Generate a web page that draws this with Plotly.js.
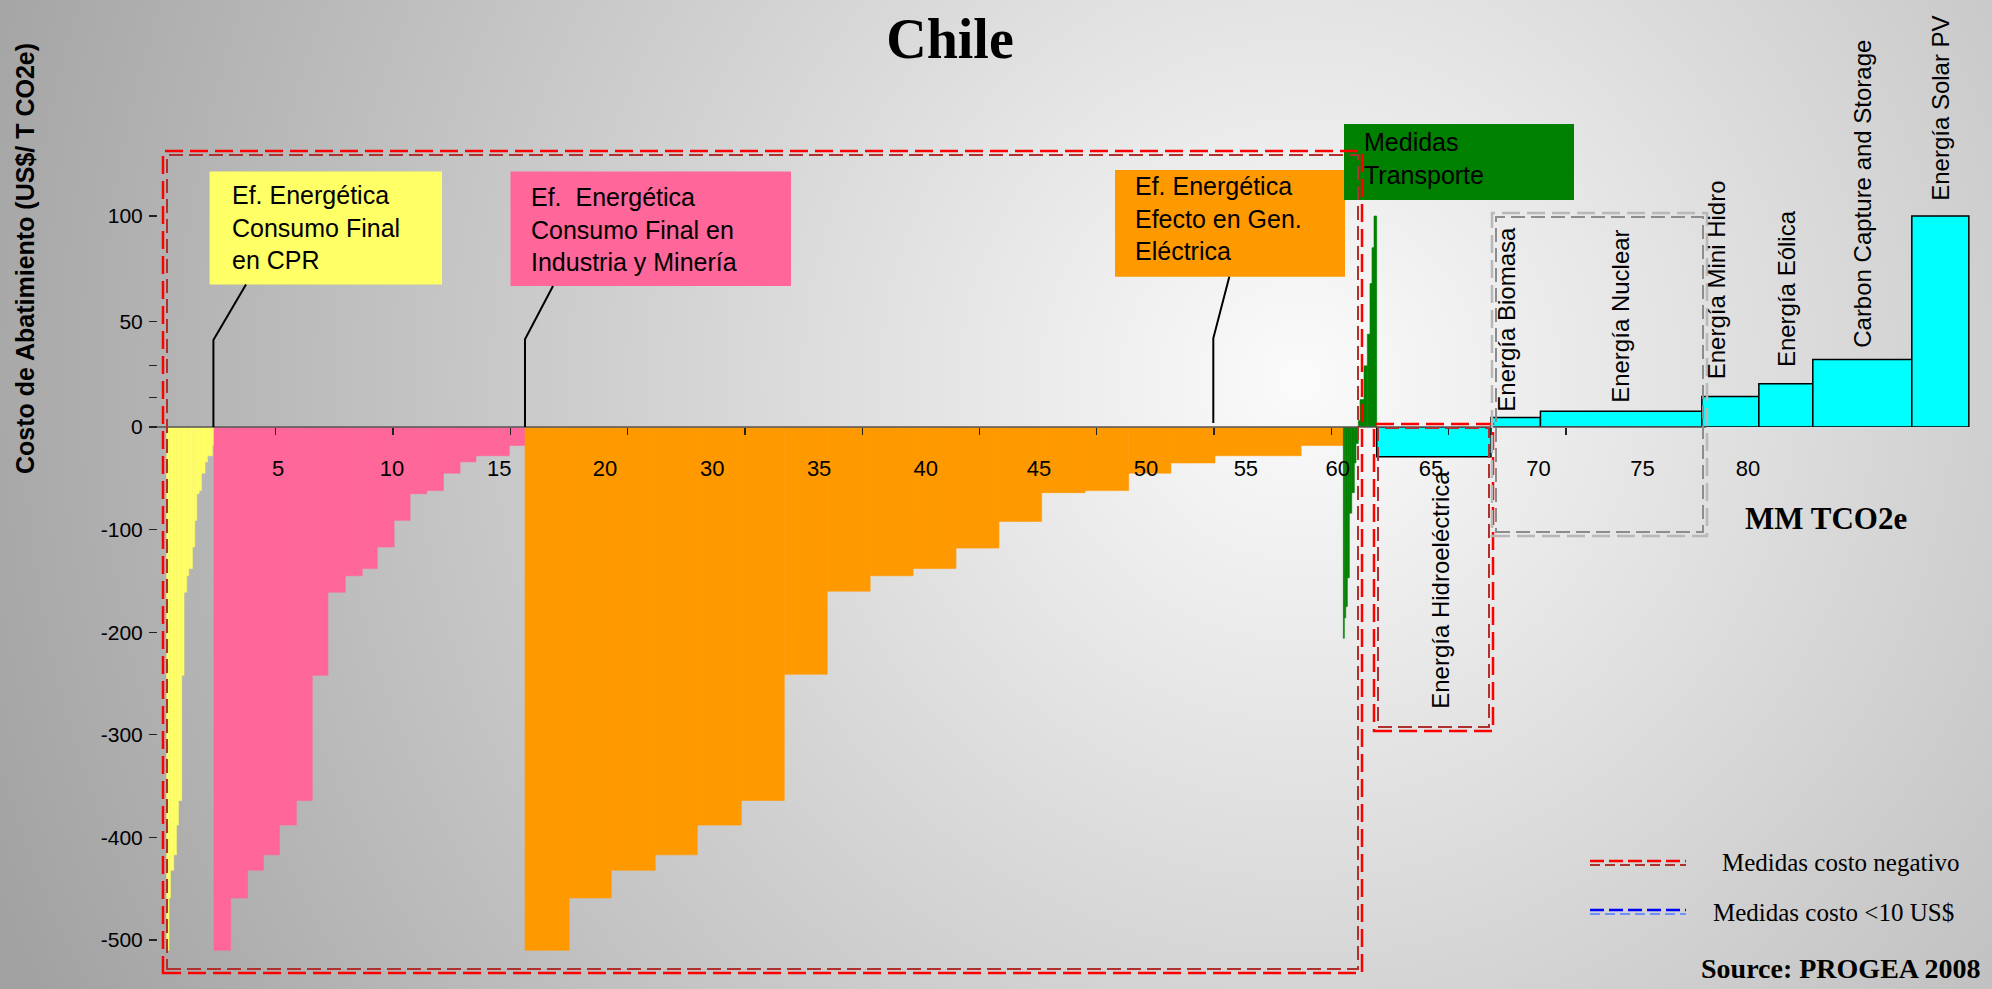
<!DOCTYPE html>
<html>
<head>
<meta charset="utf-8">
<script src="https://cdn.plot.ly/plotly-3.0.1.min.js"></script>
<style>
html,body{margin:0;padding:0;}
body{width:1992px;height:989px;overflow:hidden;
  background: radial-gradient(circle 1400px at 1300px 380px, #fbfbfb 0px, #e2e2e2 400px, #a2a2a2 1400px);}
#chart{width:1992px;height:989px;}
</style>
</head>
<body>
<div id="chart"></div>
<script>
// ---------------- DATA ----------------
// Abatement cost (US$/tCO2e) and abated volume (MM tCO2e) of each measure, in curve order
const cprCost  = [-510,-459,-432,-417,-388,-364,-242,-161,-145,-138,-117,-91,-65,-62,-45,-34,-28,-18];
const cprWidth = [0.098,0.060,0.141,0.115,0.085,0.141,0.098,0.115,0.085,0.158,0.098,0.085,0.100,0.100,0.153,0.102,0.213,0.068];

const indCost  = [-510,-459,-432,-417,-388,-364,-242,-161,-145,-138,-117,-91,-65,-62,-45,-34,-28,-18];
const indWidth = [0.71,0.72,0.68,0.68,0.72,0.68,0.67,0.74,0.72,0.64,0.72,0.68,0.71,0.71,0.71,0.68,1.42,0.67];

const genCost  = [-510,-459,-432,-417,-388,-364,-241,-160,-145,-138,-118,-92,-64,-62,-45,-35,-28,-18];
const genWidth = [1.88,1.79,1.88,1.79,1.88,1.83,1.83,1.83,1.83,1.83,1.83,1.82,1.85,1.86,1.80,1.88,3.67,1.80];

const trpCost  = [-206,-186,-175,-147,-84,-64,-35,-16,3,13,29,44,68,85,100];
const trpWidth = [0.043,0.060,0.068,0.085,0.102,0.111,0.072,0.098,0.072,0.170,0.141,0.115,0.085,0.085,0.115];

const techNames = ['Energía Hidroeléctrica','Energía Biomasa','Energía Nuclear','Energía Mini Hidro','Energía Eólica','Carbon Capture and Storage','Energía Solar PV'];
const techCost  = [-29, 4.5, 7.5, 14.5, 20.5, 32, 100];
const techWidth = [4.87, 2.11, 6.88, 2.43, 2.30, 4.22, 2.43];

const xTickText = ['5','10','15','20','30','35','40','45','50','55','60','65','70','75','80'];
const xTickAt   = [4.75, 9.6, 14.17, 18.68, 23.25, 27.81, 32.35, 37.18, 41.74, 46.0, 49.92, 53.89, 58.47, 62.91, 67.4];

const yNegTicks = [-100,-200,-300,-400,-500];
const yNegText  = ['-100','-200','-300','-400','-500'];
const yPosTicks = [0, 14, 29, 50, 100];
const yPosText  = ['0','','','50','100'];

const boxTexts = {
  cpr: 'Ef. Energética<br>Consumo Final<br>en CPR',
  ind: 'Ef.\u00a0 Energética<br>Consumo Final en<br>Industria y Minería',
  gen: 'Ef. Energética<br>Efecto en Gen.<br>Eléctrica',
  trp: 'Medidas<br>Transporte'
};

// ---------------- GEOMETRY / STYLE ----------------
const W = 1992, H = 989;
const fx = p => p / W;
const fy = p => 1 - p / H;
const ZERO_PX = 427;
const zeroFrac = fy(ZERO_PX);
const xOriginPx = 166.7, pxPerUnit = 23.46;
const xRange = [(0 - xOriginPx) / pxPerUnit, (W - xOriginPx) / pxPerUnit];
const yRange = [-(H - ZERO_PX) / 1.026, 0];
const y2Range = [0, ZERO_PX / 2.11];
const SANS = 'Liberation Sans, Arial, sans-serif';
const SERIF = 'Liberation Serif, Times New Roman, serif';

const groups = [
  {cost: cprCost, width: cprWidth, color: '#ffff66'},
  {cost: indCost, width: indWidth, color: '#ff6699'},
  {cost: genCost, width: genWidth, color: '#ff9900'},
  {cost: trpCost, width: trpWidth, color: '#008000'},
  {cost: techCost, width: techWidth, color: '#00ffff', outline: '#000000'}
];

let cursor = 0;
const traces = [];
const techCenters = [];
groups.forEach((g, gi) => {
  const neg = {x: [], y: [], w: []}, pos = {x: [], y: [], w: []};
  g.cost.forEach((c, i) => {
    const w = g.width[i];
    const xc = cursor + w / 2;
    cursor += w;
    if (gi === 4) techCenters.push(xc);
    const t = c < 0 ? neg : pos;
    t.x.push(xc); t.y.push(c); t.w.push(w);
  });
  [[neg, 'y'], [pos, 'y2']].forEach(([t, ax]) => {
    if (!t.x.length) return;
    traces.push({
      type: 'bar', x: t.x, y: t.y, width: t.w, xaxis: 'x', yaxis: ax,
      marker: {color: g.color, line: {color: g.outline || g.color, width: g.outline ? 1.5 : 0.6}},
      hoverinfo: 'skip', showlegend: false
    });
  });
});
// empty helper trace so the label axis gets its own overlay subplot
traces.push({type: 'scatter', x: [], y: [], xaxis: 'x2', yaxis: 'y2', showlegend: false, hoverinfo: 'skip'});

// evenly spaced tick marks on the MM tCO2e axis
const tickMarks = [];
for (let k = 1; k <= 12; k++) tickMarks.push(-0.354 + 5 * k);

// ---------------- SHAPES ----------------
const shapes = [];
function rectPx(x0, y0, x1, y1, fill) {
  shapes.push({type: 'rect', xref: 'paper', yref: 'paper', x0: fx(x0), x1: fx(x1), y0: fy(y1), y1: fy(y0),
    fillcolor: fill, line: {width: 0}, layer: 'above'});
}
function dashedBox(x0, y0, x1, y1, c1, c2) {
  shapes.push({type: 'rect', xref: 'paper', yref: 'paper', x0: fx(x0), x1: fx(x1), y0: fy(y1), y1: fy(y0),
    line: {color: c1, width: 2.5, dash: '18px,7px'}, fillcolor: 'rgba(0,0,0,0)'});
  shapes.push({type: 'rect', xref: 'paper', yref: 'paper', x0: fx(x0 + 4), x1: fx(x1 - 4), y0: fy(y1 - 4), y1: fy(y0 + 4),
    line: {color: c2, width: 2, dash: '14px,6px'}, fillcolor: 'rgba(0,0,0,0)'});
}
function pathPx(pts, color, width) {
  const d = pts.map((p, i) => (i ? 'L' : 'M') + fx(p[0]).toFixed(5) + ',' + fy(p[1]).toFixed(5)).join(' ');
  shapes.push({type: 'path', xref: 'paper', yref: 'paper', path: d, line: {color: color, width: width}});
}
function linePx(x0, y0, x1, y1, color, width, dash) {
  shapes.push({type: 'line', xref: 'paper', yref: 'paper', x0: fx(x0), x1: fx(x1), y0: fy(y0), y1: fy(y1),
    line: {color: color, width: width, dash: dash}});
}

// category boxes
rectPx(209.6, 171.5, 442, 284.5, '#ffff66');
rectPx(510.5, 171.5, 791, 286, '#ff6699');
rectPx(1115, 170, 1345, 276.7, '#ff9900');
rectPx(1344, 124, 1574, 200, '#008000');

// zero line
linePx(157, ZERO_PX, 1706, ZERO_PX, '#555555', 1.5);

// callout leaders
pathPx([[246, 284.5], [213.4, 340], [213.4, ZERO_PX]], '#000', 2);
pathPx([[553, 286], [525, 339.3], [525, ZERO_PX]], '#000', 2);
pathPx([[1229.3, 276.7], [1213.3, 338.3], [1213.3, 423]], '#000', 2);

// dashed group boxes
dashedBox(163, 151, 1362, 973, '#ff0000', '#b03030');
dashedBox(1374, 424, 1493, 731, '#ff0000', '#b03030');
dashedBox(1492, 213, 1707, 536, '#b8b8b8', '#8c8c8c');

// legend samples
linePx(1590, 861, 1686, 861, '#ff0000', 2.5, '14px,5px');
linePx(1590, 865, 1686, 865, '#b03030', 2, '10px,5px');
linePx(1590, 910, 1686, 910, '#0000ff', 2.5, '14px,5px');
linePx(1590, 914, 1686, 914, '#6f8fff', 2, '10px,5px');

// ---------------- ANNOTATIONS ----------------
const annotations = [];
function boxText(txt, leftPx, topPx) {
  annotations.push({text: txt, xref: 'paper', yref: 'paper', x: fx(leftPx), y: fy(topPx),
    xanchor: 'left', yanchor: 'top', align: 'left', showarrow: false, borderpad: 0,
    font: {family: SANS, size: 25, color: '#000'}});
}
boxText(boxTexts.cpr, 231, 180);
boxText(boxTexts.ind, 530, 182);
boxText(boxTexts.gen, 1134, 171);
boxText(boxTexts.trp, 1363, 127);

// y axis title
annotations.push({text: '<b>Costo de Abatimiento (US$/ T CO2e)</b>', xref: 'paper', yref: 'paper',
  x: fx(25), y: fy(259), textangle: -90, showarrow: false, xanchor: 'center', yanchor: 'middle',
  font: {family: SANS, size: 25, color: '#000'}});

// technology labels (rotated)
const techLabelDx = [6, -10, 0, -13, 0, 0, 0];
const techLabelDy = [0, 4, 6, 15, 15, 10, 13];
techNames.forEach((name, i) => {
  if (techCost[i] < 0) {
    annotations.push({text: name, xref: 'x', yref: 'paper', x: techCenters[i], xshift: techLabelDx[i],
      y: fy(711), yanchor: 'bottom', xanchor: 'center', textangle: -90, showarrow: false,
      font: {family: SANS, size: 24, color: '#000'}});
  } else {
    annotations.push({text: name, xref: 'x', yref: 'y2', x: techCenters[i], y: techCost[i],
      xshift: techLabelDx[i], yshift: techLabelDy[i], yanchor: 'bottom', xanchor: 'center', textangle: -90,
      showarrow: false, font: {family: SANS, size: 24, color: '#000'}});
  }
});

annotations.push({text: '<b>MM TCO2e</b>', xref: 'paper', yref: 'paper', x: fx(1826), y: fy(518),
  xanchor: 'center', yanchor: 'middle', showarrow: false, font: {family: SERIF, size: 31, color: '#000'}});
annotations.push({text: '<b>Source: PROGEA 2008</b>', xref: 'paper', yref: 'paper', x: fx(1982), y: fy(968),
  xanchor: 'right', yanchor: 'middle', showarrow: false, font: {family: SERIF, size: 28, color: '#000'}});
annotations.push({text: 'Medidas costo negativo', xref: 'paper', yref: 'paper', x: fx(1720), y: fy(862),
  xanchor: 'left', yanchor: 'middle', showarrow: false, font: {family: SERIF, size: 25, color: '#000'}});
annotations.push({text: 'Medidas costo <10 US$', xref: 'paper', yref: 'paper', x: fx(1711), y: fy(912),
  xanchor: 'left', yanchor: 'middle', showarrow: false, font: {family: SERIF, size: 25, color: '#000'}});

// ---------------- LAYOUT ----------------
const axisFont = {family: SANS, size: 21, color: '#000'};
const layout = {
  width: W, height: H, autosize: false,
  margin: {l: 0, r: 0, t: 0, b: 0, pad: 0},
  paper_bgcolor: 'rgba(0,0,0,0)', plot_bgcolor: 'rgba(0,0,0,0)',
  barmode: 'overlay', hovermode: false, showlegend: false,
  title: {text: '<b>Chile</b>', font: {family: SERIF, size: 56, color: '#000'},
    xref: 'paper', yref: 'container', x: fx(950), xanchor: 'center', y: fy(38), yanchor: 'middle'},
  xaxis: {domain: [0, 1], range: xRange, anchor: 'y2', side: 'bottom', showgrid: false, zeroline: false,
    showline: false, ticks: 'outside', ticklen: 7, tickwidth: 1.2, tickcolor: '#222',
    tickmode: 'array', tickvals: tickMarks, showticklabels: false, fixedrange: true},
  xaxis2: {overlaying: 'x', range: xRange, anchor: 'y2', side: 'bottom', showgrid: false, zeroline: false,
    showline: false, ticks: '', tickmode: 'array', tickvals: xTickAt, ticktext: xTickText,
    tickfont: {family: SANS, size: 22, color: '#000'}, ticklabelstandoff: 26, fixedrange: true},
  yaxis: {domain: [0, zeroFrac], range: yRange, anchor: 'free', position: fx(157), showgrid: false,
    zeroline: false, showline: false, ticks: 'outside', ticklen: 8, tickwidth: 1.2, tickcolor: '#222',
    tickmode: 'array', tickvals: yNegTicks, ticktext: yNegText, tickfont: axisFont, ticklabelstandoff: 2,
    fixedrange: true},
  yaxis2: {domain: [zeroFrac, 1], range: y2Range, anchor: 'free', position: fx(157), showgrid: false,
    zeroline: false, showline: false, ticks: 'outside', ticklen: 8, tickwidth: 1.2, tickcolor: '#222',
    tickmode: 'array', tickvals: yPosTicks, ticktext: yPosText, tickfont: axisFont, ticklabelstandoff: 2,
    fixedrange: true},
  shapes: shapes,
  annotations: annotations
};

Plotly.newPlot('chart', traces, layout, {displayModeBar: false, staticPlot: true});
</script>
</body>
</html>
